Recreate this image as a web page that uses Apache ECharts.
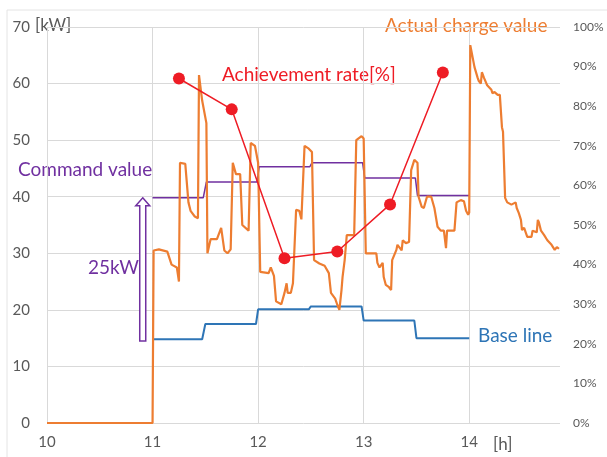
<!DOCTYPE html>
<html>
<head>
<meta charset="utf-8">
<script src="https://cdn.jsdelivr.net/npm/echarts@6/dist/echarts.min.js"></script>
<style>html,body{margin:0;padding:0;background:#fff;}#c{width:607px;height:457px;}</style>
</head>
<body>
<div id="c"></div>
<script>
// ---- data ----
const xTicks = [10, 11, 12, 13, 14];
const actualHours = [10.0, 11.0, 11.01, 11.06, 11.14, 11.18, 11.23, 11.25, 11.26, 11.31, 11.34, 11.36, 11.40, 11.43, 11.44, 11.47, 11.51, 11.52, 11.55, 11.61, 11.65, 11.68, 11.71, 11.74, 11.76, 11.79, 11.83, 11.85, 11.91, 11.93, 11.97, 12.00, 12.02, 12.10, 12.12, 12.15, 12.17, 12.22, 12.25, 12.27, 12.28, 12.31, 12.33, 12.36, 12.39, 12.41, 12.44, 12.48, 12.51, 12.53, 12.58, 12.63, 12.67, 12.69, 12.73, 12.75, 12.77, 12.79, 12.80, 12.82, 12.84, 12.91, 12.93, 12.98, 13.00, 13.02, 13.12, 13.13, 13.15, 13.18, 13.19, 13.21, 13.24, 13.26, 13.27, 13.31, 13.32, 13.36, 13.37, 13.40, 13.43, 13.45, 13.48, 13.51, 13.52, 13.55, 13.57, 13.60, 13.64, 13.67, 13.70, 13.73, 13.76, 13.78, 13.79, 13.86, 13.88, 13.92, 13.95, 13.97, 13.99, 14.00, 14.01, 14.05, 14.08, 14.09, 14.11, 14.12, 14.14, 14.17, 14.21, 14.22, 14.24, 14.27, 14.29, 14.31, 14.32, 14.34, 14.36, 14.40, 14.44, 14.45, 14.47, 14.49, 14.50, 14.52, 14.55, 14.59, 14.60, 14.64, 14.65, 14.66, 14.68, 14.71, 14.74, 14.78, 14.81, 14.83, 14.85];
const actualKW = [0, 0, 30.5, 30.7, 30.3, 28, 27.5, 25, 46, 45.8, 39, 37.5, 36.5, 36.2, 61.5, 57, 53, 30, 32.5, 32.5, 34.5, 30.5, 30, 30.7, 46, 44, 44, 35, 34, 49.5, 49, 46, 26.7, 26.5, 27.5, 26, 21.5, 21, 23, 24.7, 23, 23, 24.7, 37.7, 37.5, 36, 49, 48.5, 47.9, 28.8, 28.2, 27.8, 26.5, 23, 22, 20.9, 20, 23.5, 25.8, 28.8, 33.2, 33.2, 50, 50.7, 50.3, 30, 30, 28.3, 27.5, 28.3, 25.8, 24.4, 24, 23.5, 28.8, 30.6, 31.5, 30.5, 32.3, 31.8, 32, 44.7, 46.5, 46, 40, 38.2, 38, 40, 40, 38, 34.7, 34, 34, 30.9, 34, 34, 39, 39.4, 39.2, 37.5, 36.8, 37.2, 66.8, 62.9, 61, 60.5, 60, 62, 61, 59.7, 58.9, 58.3, 58.5, 58, 58, 52.3, 51.5, 39.8, 39, 38.6, 39, 38, 37.1, 35.9, 34.1, 34.5, 32.9, 32.9, 34, 33.7, 35.9, 35.5, 34, 33.2, 32.3, 31.5, 30.6, 31.1, 30.8];
const commandHours = [11.0, 11.48, 11.51, 11.99, 12.01, 12.49, 12.51, 12.99, 13.01, 13.49, 13.51, 14.0];
const commandKW = [39.8, 39.8, 42.6, 42.6, 45.3, 45.3, 46.0, 46.0, 43.3, 43.3, 40.2, 40.2];
const baseHours = [11.0, 11.47, 11.5, 11.98, 12.0, 12.48, 12.5, 12.98, 13.0, 13.48, 13.5, 14.0];
const baseKW = [14.8, 14.8, 17.5, 17.5, 20.1, 20.1, 20.6, 20.6, 18.1, 18.1, 15.0, 15.0];
const rateHours = [11.25, 11.75, 12.25, 12.75, 13.25, 13.75];
const ratePct = [87.0, 79.2, 41.6, 43.3, 55.2, 88.5];
const arrowData = [[10.907, 14.5, 39.8]]; // hour, from kW, to kW (25kW step)

const zip = (a, b) => a.map((v, i) => [v, b[i]]);

const FONT = 'Lato';
const GRAY = '#595959';
const ORANGE = '#ED7D31';
const PURPLE = '#7030A0';
const BLUE = '#2E75B6';
const RED = '#EE1C25';

const chart = echarts.init(document.getElementById('c'), null, {renderer: 'canvas'});
chart.setOption({
  animation: false,
  backgroundColor: '#fff',
  grid: {left: 47, top: 27, width: 513, height: 396, containLabel: false},
  xAxis: {
    type: 'value', min: 10, max: 14.86, interval: 1,
    axisLine: {show: false}, axisTick: {show: false}, splitLine: {show: false},
    axisLabel: {
      color: GRAY, fontFamily: FONT, fontSize: 15, margin: 12,
      formatter: v => (Number.isInteger(v) ? String(v) : '')
    }
  },
  yAxis: [
    {
      type: 'value', min: 0, max: 70, interval: 10,
      axisLine: {show: false}, axisTick: {show: false},
      splitLine: {lineStyle: {color: '#D9D9D9', width: 1}},
      axisLabel: {color: GRAY, fontFamily: FONT, fontSize: 15, margin: 17}
    },
    {
      type: 'value', min: 0, max: 100, interval: 10, position: 'right',
      axisLine: {show: false}, axisTick: {show: false}, splitLine: {show: false},
      axisLabel: {color: GRAY, fontFamily: FONT, fontSize: 12, margin: 13, formatter: '{value}%'}
    }
  ],
  series: [
    {
      type: 'line', name: 'grid', data: [], silent: true, z: 0,
      markLine: {
        silent: true, symbol: 'none', label: {show: false}, z: 0,
        lineStyle: {color: '#D9D9D9', width: 1, type: 'solid'},
        data: xTicks.map(v => ({xAxis: v}))
      }
    },
    {
      type: 'line', name: 'Base line', data: zip(baseHours, baseKW),
      showSymbol: false, lineStyle: {color: BLUE, width: 2}, z: 3
    },
    {
      type: 'line', name: 'Command value', data: zip(commandHours, commandKW),
      showSymbol: false, lineStyle: {color: PURPLE, width: 1.5}, z: 3
    },
    {
      type: 'custom', name: 'arrow', data: arrowData, z: 3,
      renderItem: (params, api) => {
        const b = api.coord([api.value(0), api.value(1)]);
        const t = api.coord([api.value(0), api.value(2)]);
        const hw = 3, hh = 7, hl = 8;
        return {
          type: 'polygon',
          shape: {points: [
            [t[0], t[1]], [t[0] + hh, t[1] + hl], [t[0] + hw, t[1] + hl], [t[0] + hw, b[1]],
            [t[0] - hw, b[1]], [t[0] - hw, t[1] + hl], [t[0] - hh, t[1] + hl]
          ]},
          style: {fill: '#fff', stroke: PURPLE, lineWidth: 1.5}
        };
      }
    },
    {
      type: 'line', name: 'Actual charge value', data: zip(actualHours, actualKW),
      showSymbol: false, lineStyle: {color: ORANGE, width: 2.2}, z: 4
    },
    {
      type: 'line', name: 'Achievement rate', yAxisIndex: 1, data: zip(rateHours, ratePct),
      symbol: 'circle', symbolSize: 12, showAllSymbol: true,
      itemStyle: {color: RED}, lineStyle: {color: RED, width: 1.5}, z: 5
    }
  ],
  graphic: [
    {type: 'rect', shape: {x: 7, y: 10, width: 620, height: 470}, style: {fill: 'none', stroke: '#E4E4E4', lineWidth: 1}, silent: true, z: -1},
    {type: 'text', left: 35, top: 17, style: {text: '[kW]', fill: GRAY, font: '17px ' + FONT}},
    {type: 'text', left: 493, top: 436, style: {text: '[h]', fill: GRAY, font: '17px ' + FONT}},
    {type: 'text', left: 385, top: 16, style: {text: 'Actual charge value', fill: ORANGE, font: '19px ' + FONT}},
    {type: 'text', left: 222, top: 65, style: {text: 'Achievement rate[%]', fill: RED, font: '19px ' + FONT}},
    {type: 'text', left: 18, top: 160, style: {text: 'Command value', fill: PURPLE, font: '19px ' + FONT}},
    {type: 'text', left: 88, top: 258, style: {text: '25kW', fill: PURPLE, font: '19px ' + FONT}},
    {type: 'text', left: 478, top: 326, style: {text: 'Base line', fill: BLUE, font: '19px ' + FONT}}
  ]
});
</script>
</body>
</html>
